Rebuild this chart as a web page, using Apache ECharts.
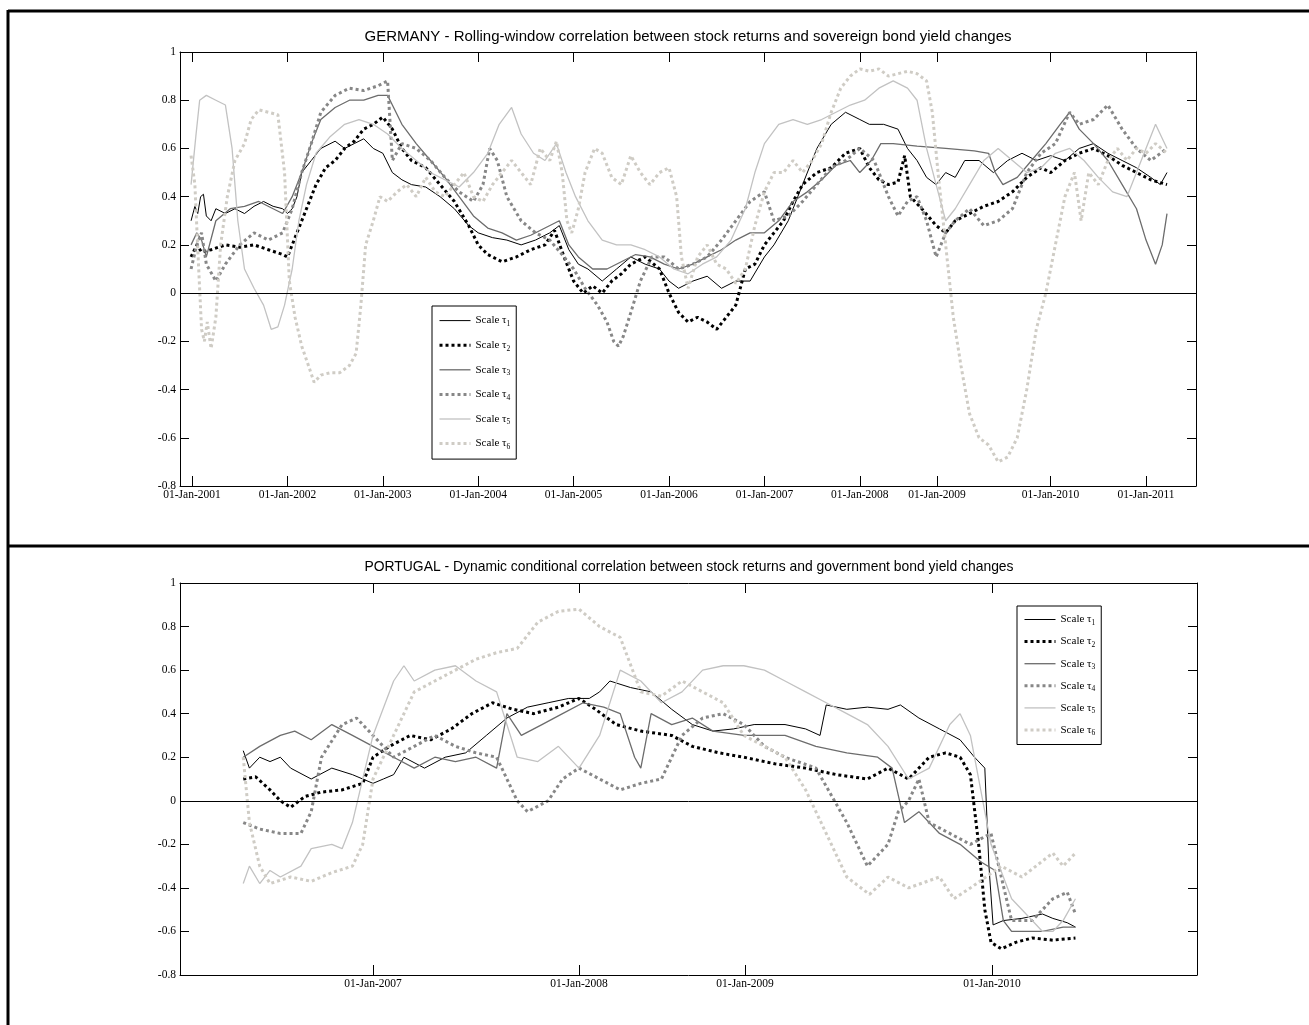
<!DOCTYPE html>
<html><head><meta charset="utf-8">
<script src="https://cdn.jsdelivr.net/npm/echarts@6/dist/echarts.min.js"></script>
<style>html,body{margin:0;padding:0;background:#fff}#c{width:1309px;height:1025px}</style>
</head><body><div id="c"></div>
<script>
// ---------- data ----------
const seriesNames = ['Scale τ1','Scale τ2','Scale τ3','Scale τ4','Scale τ5','Scale τ6'];
const deTitle = 'GERMANY - Rolling-window correlation between stock returns and sovereign bond yield changes';
const ptTitle = 'PORTUGAL - Dynamic conditional correlation between stock returns and government bond yield changes';
const deTickValues = [2001,2002,2003,2004,2005,2006,2007,2008,2008.81,2010,2011];
const deTickLabels = ['01-Jan-2001','01-Jan-2002','01-Jan-2003','01-Jan-2004','01-Jan-2005','01-Jan-2006','01-Jan-2007','01-Jan-2008','01-Jan-2009','01-Jan-2010','01-Jan-2011'];
const ptTickValues = [2007,2008,2008.806,2010.005];
const ptTickLabels = ['01-Jan-2007','01-Jan-2008','01-Jan-2009','01-Jan-2010'];
const deXRange = [2000.874, 2011.524];
const ptXRange = [2006.063, 2011.0];
const yRange = [-0.8, 1];
const yStep = 0.2;

// Germany [year, correlation]
const deTau1 = [[2000.99,0.3],[2001.03,0.36],[2001.06,0.33],[2001.09,0.4],[2001.12,0.41],[2001.15,0.32],[2001.2,0.3],[2001.25,0.35],[2001.35,0.33],[2001.45,0.35],[2001.55,0.33],[2001.65,0.36],[2001.75,0.38],[2001.85,0.36],[2001.95,0.35],[2002.0,0.33],[2002.05,0.35],[2002.1,0.4],[2002.15,0.5],[2002.25,0.55],[2002.35,0.6],[2002.5,0.63],[2002.6,0.6],[2002.7,0.62],[2002.8,0.64],[2002.9,0.6],[2003.0,0.58],[2003.1,0.5],[2003.2,0.47],[2003.3,0.45],[2003.45,0.44],[2003.6,0.4],[2003.75,0.35],[2003.9,0.28],[2004.0,0.25],[2004.15,0.23],[2004.3,0.22],[2004.45,0.2],[2004.6,0.22],[2004.75,0.25],[2004.85,0.28],[2004.95,0.18],[2005.05,0.12],[2005.15,0.1],[2005.3,0.05],[2005.45,0.1],[2005.6,0.15],[2005.75,0.12],[2005.9,0.1],[2006.0,0.05],[2006.1,0.02],[2006.25,0.05],[2006.4,0.07],[2006.55,0.02],[2006.7,0.05],[2006.85,0.05],[2007.0,0.15],[2007.1,0.2],[2007.25,0.3],[2007.4,0.45],[2007.55,0.6],[2007.7,0.7],[2007.85,0.75],[2008.0,0.72],[2008.1,0.7],[2008.25,0.7],[2008.4,0.68],[2008.5,0.6],[2008.6,0.55],[2008.7,0.48],[2008.8,0.45],[2008.9,0.5],[2009.0,0.48],[2009.1,0.55],[2009.25,0.55],[2009.4,0.5],[2009.55,0.55],[2009.7,0.58],[2009.85,0.55],[2010.0,0.57],[2010.15,0.55],[2010.3,0.6],[2010.45,0.62],[2010.6,0.58],[2010.75,0.55],[2010.9,0.52],[2011.05,0.48],[2011.15,0.45],[2011.22,0.5]];
const deTau2 = [[2000.99,0.15],[2001.05,0.2],[2001.1,0.17],[2001.2,0.18],[2001.35,0.2],[2001.5,0.19],[2001.65,0.2],[2001.8,0.18],[2001.95,0.16],[2002.0,0.15],[2002.1,0.25],[2002.2,0.35],[2002.3,0.45],[2002.4,0.52],[2002.5,0.55],[2002.6,0.6],[2002.7,0.63],[2002.8,0.68],[2002.9,0.7],[2003.0,0.73],[2003.1,0.68],[2003.2,0.6],[2003.3,0.55],[2003.45,0.52],[2003.6,0.45],[2003.75,0.38],[2003.9,0.28],[2004.0,0.2],[2004.1,0.16],[2004.25,0.13],[2004.4,0.15],[2004.55,0.18],[2004.7,0.2],[2004.8,0.26],[2004.9,0.15],[2005.0,0.05],[2005.1,0.0],[2005.2,0.03],[2005.3,0.0],[2005.4,0.05],[2005.5,0.08],[2005.6,0.12],[2005.75,0.15],[2005.9,0.1],[2006.0,0.0],[2006.1,-0.08],[2006.2,-0.12],[2006.3,-0.1],[2006.4,-0.12],[2006.5,-0.15],[2006.6,-0.1],[2006.7,-0.05],[2006.8,0.1],[2006.9,0.12],[2007.0,0.2],[2007.1,0.25],[2007.2,0.3],[2007.3,0.38],[2007.4,0.45],[2007.55,0.5],[2007.7,0.52],[2007.85,0.58],[2008.0,0.6],[2008.1,0.52],[2008.2,0.47],[2008.3,0.45],[2008.4,0.46],[2008.47,0.57],[2008.53,0.4],[2008.65,0.35],[2008.8,0.28],[2008.9,0.25],[2009.0,0.3],[2009.15,0.33],[2009.3,0.36],[2009.45,0.38],[2009.6,0.42],[2009.75,0.48],[2009.9,0.52],[2010.0,0.5],[2010.15,0.55],[2010.3,0.58],[2010.45,0.6],[2010.6,0.57],[2010.75,0.53],[2010.9,0.5],[2011.05,0.47],[2011.22,0.45]];
const deTau3 = [[2000.99,0.2],[2001.05,0.25],[2001.1,0.22],[2001.15,0.15],[2001.25,0.3],[2001.4,0.35],[2001.55,0.36],[2001.7,0.38],[2001.85,0.35],[2001.95,0.33],[2002.05,0.4],[2002.15,0.5],[2002.25,0.62],[2002.35,0.72],[2002.5,0.77],[2002.65,0.8],[2002.8,0.8],[2002.95,0.82],[2003.05,0.82],[2003.1,0.78],[2003.2,0.7],[2003.35,0.62],[2003.5,0.55],[2003.65,0.48],[2003.8,0.4],[2003.95,0.32],[2004.1,0.27],[2004.25,0.25],[2004.4,0.22],[2004.55,0.24],[2004.7,0.27],[2004.85,0.3],[2004.95,0.2],[2005.05,0.15],[2005.2,0.1],[2005.35,0.1],[2005.5,0.13],[2005.65,0.16],[2005.8,0.15],[2005.95,0.12],[2006.1,0.1],[2006.25,0.12],[2006.4,0.15],[2006.55,0.18],[2006.7,0.22],[2006.85,0.25],[2007.0,0.25],[2007.15,0.3],[2007.3,0.38],[2007.45,0.42],[2007.6,0.47],[2007.75,0.53],[2007.9,0.55],[2008.0,0.5],[2008.12,0.55],[2008.22,0.62],[2008.35,0.62],[2008.6,0.61],[2008.9,0.6],[2009.2,0.59],[2009.35,0.58],[2009.42,0.5],[2009.5,0.45],[2009.65,0.48],[2009.8,0.55],[2009.95,0.62],[2010.1,0.7],[2010.2,0.75],[2010.3,0.68],[2010.45,0.62],[2010.6,0.55],[2010.75,0.45],[2010.9,0.35],[2011.0,0.22],[2011.1,0.12],[2011.17,0.2],[2011.22,0.33]];
const deTau4 = [[2000.99,0.1],[2001.05,0.2],[2001.1,0.25],[2001.15,0.12],[2001.25,0.05],[2001.35,0.12],[2001.5,0.2],[2001.65,0.25],[2001.8,0.22],[2001.95,0.25],[2002.05,0.35],[2002.15,0.5],[2002.25,0.62],[2002.35,0.75],[2002.5,0.82],[2002.65,0.85],[2002.8,0.84],[2002.95,0.86],[2003.05,0.88],[2003.1,0.55],[2003.2,0.62],[2003.35,0.6],[2003.5,0.55],[2003.65,0.48],[2003.8,0.42],[2003.95,0.38],[2004.05,0.45],[2004.12,0.6],[2004.2,0.55],[2004.3,0.4],[2004.45,0.3],[2004.6,0.25],[2004.75,0.22],[2004.9,0.15],[2005.0,0.1],[2005.12,0.02],[2005.25,-0.05],[2005.35,-0.12],[2005.42,-0.2],[2005.47,-0.22],[2005.52,-0.18],[2005.6,-0.08],[2005.7,0.05],[2005.82,0.15],[2005.95,0.15],[2006.1,0.1],[2006.25,0.12],[2006.4,0.15],[2006.55,0.22],[2006.7,0.3],[2006.85,0.38],[2007.0,0.42],[2007.1,0.3],[2007.25,0.32],[2007.4,0.38],[2007.55,0.45],[2007.7,0.52],[2007.85,0.55],[2008.0,0.6],[2008.15,0.55],[2008.3,0.4],[2008.4,0.32],[2008.5,0.38],[2008.6,0.4],[2008.7,0.3],[2008.8,0.15],[2008.9,0.25],[2009.0,0.3],[2009.15,0.35],[2009.3,0.28],[2009.45,0.3],[2009.6,0.35],[2009.75,0.5],[2009.9,0.58],[2010.05,0.62],[2010.2,0.75],[2010.3,0.7],[2010.45,0.72],[2010.6,0.78],[2010.75,0.68],[2010.9,0.6],[2011.05,0.55],[2011.22,0.6]];
const deTau5 = [[2000.99,0.45],[2001.04,0.65],[2001.08,0.8],[2001.15,0.82],[2001.25,0.8],[2001.35,0.78],[2001.42,0.6],[2001.48,0.3],[2001.55,0.1],[2001.65,0.02],[2001.75,-0.05],[2001.83,-0.15],[2001.9,-0.14],[2001.97,-0.05],[2002.05,0.1],[2002.12,0.3],[2002.2,0.45],[2002.3,0.58],[2002.45,0.65],[2002.6,0.7],[2002.75,0.72],[2002.9,0.7],[2003.05,0.66],[2003.2,0.6],[2003.35,0.55],[2003.5,0.5],[2003.65,0.47],[2003.8,0.44],[2003.95,0.5],[2004.1,0.58],[2004.22,0.7],[2004.35,0.77],[2004.45,0.66],[2004.58,0.58],[2004.7,0.55],[2004.82,0.62],[2004.92,0.5],[2005.02,0.4],[2005.15,0.3],[2005.3,0.22],[2005.45,0.2],[2005.6,0.2],[2005.75,0.18],[2005.9,0.15],[2006.05,0.1],[2006.2,0.08],[2006.35,0.12],[2006.5,0.15],[2006.65,0.22],[2006.8,0.35],[2006.9,0.5],[2007.0,0.62],[2007.15,0.7],[2007.3,0.72],[2007.45,0.7],[2007.6,0.72],[2007.75,0.75],[2007.9,0.78],[2008.05,0.8],[2008.2,0.85],[2008.35,0.88],[2008.5,0.85],[2008.6,0.8],[2008.7,0.6],[2008.8,0.45],[2008.9,0.3],[2009.0,0.35],[2009.15,0.45],[2009.3,0.55],[2009.45,0.6],[2009.6,0.55],[2009.75,0.5],[2009.9,0.52],[2010.05,0.58],[2010.2,0.6],[2010.35,0.55],[2010.5,0.48],[2010.65,0.42],[2010.8,0.4],[2010.95,0.55],[2011.1,0.7],[2011.22,0.6]];
const deTau6 = [[2000.99,0.57],[2001.03,0.45],[2001.07,0.1],[2001.1,-0.15],[2001.13,-0.2],[2001.16,-0.12],[2001.2,-0.23],[2001.25,-0.1],[2001.3,0.2],[2001.37,0.4],[2001.45,0.55],[2001.55,0.62],[2001.62,0.72],[2001.7,0.76],[2001.8,0.75],[2001.9,0.74],[2001.97,0.5],[2002.02,0.05],[2002.08,-0.1],[2002.15,-0.22],[2002.22,-0.3],[2002.28,-0.37],[2002.35,-0.34],[2002.45,-0.33],[2002.55,-0.33],[2002.65,-0.3],[2002.72,-0.25],[2002.77,-0.05],[2002.82,0.2],[2002.9,0.3],[2002.97,0.4],[2003.05,0.38],[2003.15,0.42],[2003.25,0.45],[2003.35,0.4],[2003.45,0.48],[2003.55,0.42],[2003.65,0.4],[2003.75,0.45],[2003.85,0.5],[2003.95,0.4],[2004.05,0.38],[2004.15,0.45],[2004.25,0.5],[2004.35,0.55],[2004.45,0.5],[2004.55,0.45],[2004.65,0.6],[2004.75,0.55],[2004.82,0.63],[2004.88,0.5],[2004.93,0.3],[2004.98,0.25],[2005.05,0.35],[2005.12,0.5],[2005.22,0.6],[2005.3,0.58],[2005.4,0.48],[2005.5,0.45],[2005.6,0.57],[2005.7,0.5],[2005.8,0.45],[2005.9,0.5],[2006.0,0.52],[2006.08,0.4],[2006.13,0.15],[2006.2,0.02],[2006.3,0.15],[2006.4,0.2],[2006.5,0.12],[2006.6,0.1],[2006.7,0.04],[2006.8,0.1],[2006.9,0.28],[2007.0,0.42],[2007.1,0.5],[2007.2,0.5],[2007.3,0.55],[2007.4,0.5],[2007.5,0.55],[2007.6,0.62],[2007.7,0.75],[2007.8,0.85],[2007.9,0.9],[2008.0,0.93],[2008.1,0.92],[2008.2,0.93],[2008.3,0.9],[2008.4,0.91],[2008.5,0.92],[2008.6,0.91],[2008.7,0.88],[2008.76,0.75],[2008.82,0.5],[2008.9,0.2],[2008.98,-0.1],[2009.06,-0.3],[2009.15,-0.5],[2009.25,-0.6],[2009.35,-0.63],[2009.45,-0.7],[2009.55,-0.68],[2009.65,-0.6],[2009.75,-0.4],[2009.85,-0.15],[2009.95,0.0],[2010.05,0.2],[2010.15,0.4],[2010.25,0.5],[2010.32,0.3],[2010.4,0.5],[2010.5,0.45],[2010.6,0.55],[2010.7,0.6],[2010.8,0.55],[2010.9,0.6],[2011.0,0.58],[2011.1,0.62],[2011.22,0.58]];

// Portugal [year, correlation]
const ptTau1 = [[2006.37,0.23],[2006.4,0.15],[2006.45,0.2],[2006.5,0.18],[2006.55,0.2],[2006.6,0.15],[2006.7,0.1],[2006.8,0.15],[2006.9,0.12],[2007.0,0.08],[2007.05,0.1],[2007.1,0.12],[2007.15,0.2],[2007.25,0.15],[2007.35,0.2],[2007.45,0.22],[2007.55,0.3],[2007.65,0.38],[2007.75,0.43],[2007.85,0.45],[2007.95,0.47],[2008.05,0.47],[2008.1,0.5],[2008.15,0.55],[2008.25,0.52],[2008.35,0.5],[2008.45,0.42],[2008.55,0.35],[2008.65,0.32],[2008.75,0.33],[2008.85,0.35],[2009.0,0.35],[2009.1,0.33],[2009.17,0.3],[2009.2,0.44],[2009.3,0.42],[2009.4,0.43],[2009.5,0.42],[2009.56,0.44],[2009.65,0.38],[2009.75,0.33],[2009.85,0.28],[2009.92,0.2],[2009.97,0.15],[2009.99,-0.3],[2010.01,-0.57],[2010.06,-0.55],[2010.15,-0.54],[2010.25,-0.52],[2010.3,-0.54],[2010.37,-0.56],[2010.41,-0.58]];
const ptTau2 = [[2006.37,0.1],[2006.43,0.11],[2006.5,0.05],[2006.55,0.0],[2006.6,-0.03],[2006.67,0.02],[2006.75,0.04],[2006.85,0.05],[2006.95,0.08],[2007.0,0.2],[2007.08,0.25],[2007.18,0.3],[2007.28,0.28],[2007.38,0.33],[2007.48,0.4],[2007.58,0.45],[2007.68,0.42],[2007.78,0.4],[2007.9,0.43],[2008.0,0.47],[2008.08,0.42],[2008.18,0.35],[2008.3,0.32],[2008.45,0.3],[2008.55,0.25],[2008.68,0.22],[2008.8,0.2],[2008.95,0.17],[2009.1,0.15],[2009.25,0.12],[2009.4,0.1],[2009.5,0.15],[2009.6,0.1],[2009.7,0.2],[2009.78,0.22],[2009.85,0.2],[2009.9,0.12],[2009.94,-0.2],[2009.97,-0.5],[2010.0,-0.65],[2010.05,-0.68],[2010.12,-0.65],[2010.2,-0.63],[2010.3,-0.64],[2010.41,-0.63]];
const ptTau3 = [[2006.37,0.2],[2006.45,0.25],[2006.55,0.3],[2006.62,0.32],[2006.7,0.28],[2006.8,0.35],[2006.9,0.3],[2007.0,0.25],[2007.1,0.2],[2007.2,0.15],[2007.3,0.2],[2007.4,0.18],[2007.5,0.2],[2007.6,0.15],[2007.65,0.4],[2007.72,0.3],[2007.82,0.35],[2007.92,0.4],[2008.02,0.45],[2008.12,0.43],[2008.2,0.4],[2008.27,0.2],[2008.3,0.15],[2008.35,0.4],[2008.45,0.35],[2008.55,0.38],[2008.65,0.32],[2008.8,0.3],[2009.0,0.3],[2009.15,0.25],[2009.3,0.22],[2009.45,0.2],[2009.52,0.15],[2009.58,-0.1],[2009.65,-0.05],[2009.75,-0.15],[2009.85,-0.2],[2009.95,-0.28],[2010.02,-0.32],[2010.06,-0.55],[2010.1,-0.6],[2010.25,-0.6],[2010.35,-0.58],[2010.41,-0.58]];
const ptTau4 = [[2006.37,-0.1],[2006.45,-0.13],[2006.55,-0.15],[2006.65,-0.15],[2006.7,-0.05],[2006.75,0.2],[2006.85,0.35],[2006.92,0.38],[2007.0,0.3],[2007.1,0.2],[2007.2,0.25],[2007.3,0.3],[2007.4,0.25],[2007.5,0.22],[2007.6,0.2],[2007.7,0.0],[2007.75,-0.05],[2007.85,0.0],[2007.92,0.1],[2008.0,0.15],[2008.1,0.1],[2008.2,0.05],[2008.3,0.08],[2008.4,0.1],[2008.5,0.3],[2008.6,0.38],[2008.7,0.4],[2008.8,0.35],[2008.9,0.25],[2009.0,0.2],[2009.15,0.15],[2009.3,-0.1],[2009.4,-0.3],[2009.45,-0.25],[2009.5,-0.2],[2009.55,-0.05],[2009.6,0.0],[2009.65,0.1],[2009.7,-0.1],[2009.8,-0.15],[2009.9,-0.2],[2010.0,-0.15],[2010.05,-0.35],[2010.1,-0.55],[2010.2,-0.55],[2010.3,-0.45],[2010.37,-0.42],[2010.41,-0.52]];
const ptTau5 = [[2006.37,-0.38],[2006.4,-0.3],[2006.45,-0.38],[2006.5,-0.32],[2006.55,-0.35],[2006.65,-0.3],[2006.7,-0.22],[2006.8,-0.2],[2006.85,-0.22],[2006.9,-0.1],[2007.0,0.3],[2007.1,0.55],[2007.15,0.62],[2007.2,0.55],[2007.3,0.6],[2007.4,0.62],[2007.5,0.55],[2007.6,0.5],[2007.7,0.2],[2007.8,0.18],[2007.9,0.25],[2008.0,0.15],[2008.1,0.3],[2008.2,0.6],[2008.3,0.55],[2008.4,0.45],[2008.5,0.5],[2008.6,0.6],[2008.7,0.62],[2008.8,0.62],[2008.9,0.6],[2009.0,0.55],[2009.1,0.5],[2009.2,0.45],[2009.3,0.4],[2009.4,0.35],[2009.5,0.25],[2009.6,0.1],[2009.7,0.15],[2009.8,0.35],[2009.85,0.4],[2009.9,0.3],[2010.0,-0.2],[2010.1,-0.45],[2010.2,-0.55],[2010.25,-0.6],[2010.3,-0.6],[2010.35,-0.55],[2010.41,-0.45]];
const ptTau6 = [[2006.37,0.2],[2006.4,-0.1],[2006.45,-0.3],[2006.5,-0.38],[2006.6,-0.35],[2006.7,-0.37],[2006.8,-0.33],[2006.9,-0.3],[2006.95,-0.2],[2007.0,0.1],[2007.1,0.3],[2007.2,0.5],[2007.3,0.55],[2007.4,0.6],[2007.5,0.65],[2007.6,0.68],[2007.7,0.7],[2007.8,0.82],[2007.9,0.87],[2008.0,0.88],[2008.1,0.8],[2008.2,0.75],[2008.3,0.5],[2008.4,0.48],[2008.5,0.55],[2008.6,0.5],[2008.7,0.45],[2008.8,0.3],[2008.9,0.25],[2009.0,0.2],[2009.1,0.05],[2009.2,-0.15],[2009.3,-0.35],[2009.41,-0.43],[2009.5,-0.35],[2009.6,-0.4],[2009.75,-0.35],[2009.82,-0.45],[2009.9,-0.4],[2010.05,-0.3],[2010.15,-0.35],[2010.3,-0.24],[2010.35,-0.3],[2010.41,-0.24]];

const deData = [deTau1, deTau2, deTau3, deTau4, deTau5, deTau6];
const ptData = [ptTau1, ptTau2, ptTau3, ptTau4, ptTau5, ptTau6];

// ---------- styling ----------
const lineStyles = [
  {color:'#000000', width:1, type:'solid'},
  {color:'#000000', width:3, type:[3,3]},
  {color:'#6c6c6c', width:1.3, type:'solid'},
  {color:'#878787', width:3, type:[3,3]},
  {color:'#c2c2c2', width:1.3, type:'solid'},
  {color:'#cfccc5', width:3, type:[3,3]}
];
const serif = 'Liberation Serif, Times New Roman, serif';
const sans = 'Liberation Sans, Arial, sans-serif';

function tickLabelFmt(vals, labels) {
  return function (v) {
    let best = 0, bd = Infinity;
    vals.forEach((t, i) => { const d = Math.abs(t - v); if (d < bd) { bd = d; best = i; } });
    return bd < 0.02 ? labels[best] : '';
  };
}
function yFmt(v) { const r = Math.round(v * 10) / 10; return String(r); }

function xAxes(gi, range, ticks, labels) {
  return [
    {type:'value', gridIndex:gi, position:'bottom', min:range[0], max:range[1],
     axisLine:{show:true, onZero:false, lineStyle:{color:'#000', width:1}},
     axisTick:{show:true, inside:true, length:10, customValues:ticks, lineStyle:{color:'#000'}},
     axisLabel:{show:true, customValues:ticks, formatter:tickLabelFmt(ticks, labels), color:'#000', fontFamily:serif, fontSize:11.5, margin:3},
     splitLine:{show:false}},
    {type:'value', gridIndex:gi, position:'top', min:range[0], max:range[1],
     axisLine:{show:true, onZero:false, lineStyle:{color:'#000', width:1}},
     axisTick:{show:true, inside:true, length:10, customValues:ticks, lineStyle:{color:'#000'}},
     axisLabel:{show:false}, splitLine:{show:false}}
  ];
}
function yAxes(gi) {
  return [
    {type:'value', gridIndex:gi, position:'left', min:yRange[0], max:yRange[1], interval:yStep,
     axisLine:{show:true, onZero:false, lineStyle:{color:'#000', width:1}},
     axisTick:{show:true, inside:true, length:9, lineStyle:{color:'#000'}},
     axisLabel:{show:true, formatter:yFmt, color:'#000', fontFamily:serif, fontSize:11.5, margin:4},
     splitLine:{show:false}},
    {type:'value', gridIndex:gi, position:'right', min:yRange[0], max:yRange[1], interval:yStep,
     axisLine:{show:true, onZero:false, lineStyle:{color:'#000', width:1}},
     axisTick:{show:true, inside:true, length:9, lineStyle:{color:'#000'}},
     axisLabel:{show:false}, splitLine:{show:false}}
  ];
}

const series = [];
[deData, ptData].forEach((set, gi) => {
  set.forEach((d, i) => {
    const s = {
      name: seriesNames[i], type:'line', xAxisIndex: gi*2, yAxisIndex: gi*2,
      data: d, showSymbol:false, symbol:'none', smooth:false, silent:true,
      lineStyle: {color: lineStyles[i].color, width: lineStyles[i].width, type: lineStyles[i].type},
      itemStyle: {color: lineStyles[i].color},
      z: 3
    };
    if (i === 0) {
      s.markLine = {silent:true, symbol:'none', label:{show:false},
        lineStyle:{color:'#000', width:1, type:'solid'}, data:[{yAxis:0}]};
    }
    series.push(s);
  });
});

function legendCfg(left, top, itemH, gap, pad) {
  return {
    orient:'vertical', left:left, top:top,
    data: seriesNames.map((n, i) => ({name:n,
      lineStyle:{color:lineStyles[i].color, width:lineStyles[i].width, type:lineStyles[i].type}})),
    itemWidth:31, itemHeight:itemH, itemGap:gap, padding:pad,
    borderColor:'#000', borderWidth:1, backgroundColor:'#fff',
    selectedMode:false,
    itemStyle:{color:'rgba(0,0,0,0)', borderColor:'rgba(0,0,0,0)', borderWidth:0},
    formatter: n => 'Scale τ{s|' + n.slice(-1) + '}',
    textStyle:{fontFamily:serif, fontSize:11, color:'#000',
      rich:{s:{fontFamily:serif, fontSize:7.5, color:'#000', padding:[7,0,0,0]}}}
  };
}

const chart = echarts.init(document.getElementById('c'), null, {renderer:'canvas'});
chart.setOption({
  animation:false,
  backgroundColor:'#fff',
  title:[
    {text:deTitle, left:688, top:29, textAlign:'center', padding:0,
     textStyle:{fontFamily:sans, fontSize:15, fontWeight:'normal', color:'#000'}},
    {text:ptTitle, left:689, top:560, textAlign:'center', padding:0,
     textStyle:{fontFamily:sans, fontSize:13.9, fontWeight:'normal', color:'#000'}}
  ],
  grid:[
    {left:180, top:52, width:1016, height:434},
    {left:180, top:583, width:1017, height:392}
  ],
  xAxis:[...xAxes(0, deXRange, deTickValues, deTickLabels), ...xAxes(1, ptXRange, ptTickValues, ptTickLabels)],
  yAxis:[...yAxes(0), ...yAxes(1)],
  legend:[legendCfg(432, 306, 14, 11.5, [9,6,8,6]), legendCfg(1017, 606, 13, 9.1, [8,6,7,6])],
  series: series,
  graphic:[
    {type:'line', shape:{x1:8, y1:11, x2:1309, y2:11}, style:{stroke:'#000', lineWidth:3}, silent:true},
    {type:'line', shape:{x1:8, y1:10, x2:8, y2:1025}, style:{stroke:'#000', lineWidth:3}, silent:true},
    {type:'line', shape:{x1:8, y1:546, x2:1309, y2:546}, style:{stroke:'#000', lineWidth:3}, silent:true}
  ]
});
</script>
</body></html>
